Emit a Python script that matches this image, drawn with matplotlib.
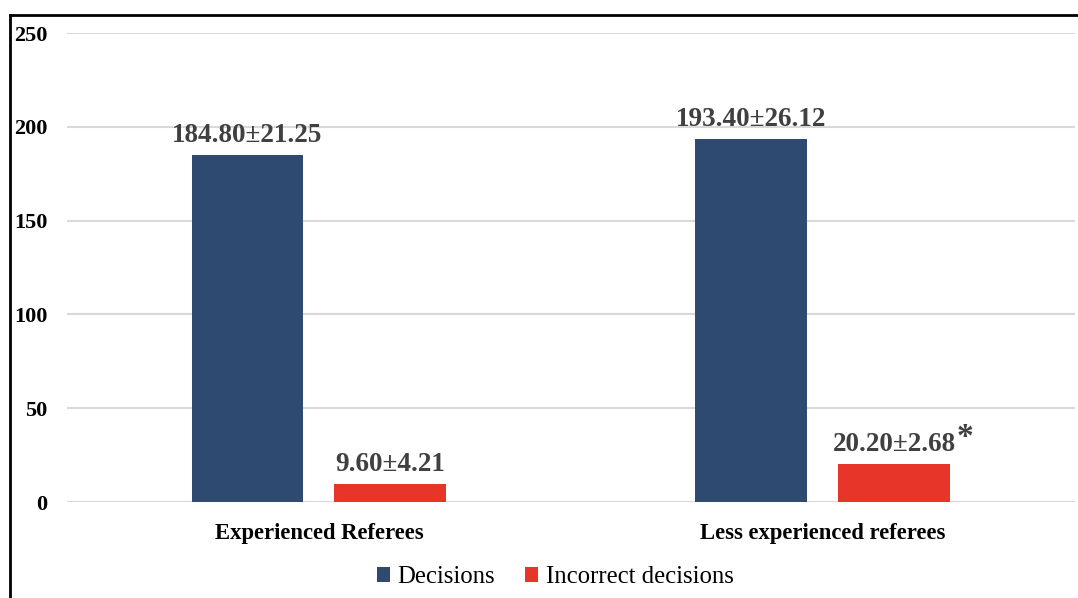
import matplotlib.pyplot as plt
from matplotlib.lines import Line2D
from matplotlib.patches import Patch
import numpy as np

plt.rcParams['font.family'] = ['Liberation Serif', 'DejaVu Serif']

groups = ['Experienced Referees', 'Less experienced referees']
series = ['Decisions', 'Incorrect decisions']
means = [[184.80, 193.40], [9.60, 20.20]]
sds = [[21.25, 26.12], [4.21, 2.68]]
signif = [[False, False], [False, True]]
colors = ['#2E4A70', '#E8352A']

fig = plt.figure(figsize=(10.78, 5.98), dpi=100)
ax = fig.add_axes([0.0622, 0.1605, 0.935, 0.7843])

x = np.arange(len(groups))
w = 0.222
offs = [-0.142, 0.141]
for i in range(len(series)):
    bars = ax.bar(x + offs[i], means[i], width=w, color=colors[i], zorder=3, label=series[i])
    for j, b in enumerate(bars):
        t = ax.annotate(f"{means[i][j]:.2f}\u00b1{sds[i][j]:.2f}",
                        (b.get_x() + b.get_width() / 2, b.get_height()),
                        xytext=(0, 5), textcoords='offset points',
                        ha='center', va='bottom', fontsize=19.5, fontweight='bold',
                        color='#404040')
        if signif[i][j]:
            ax.annotate('*', xy=(1, 1), xycoords=t, xytext=(1, 7), textcoords='offset points',
                        ha='left', va='top', fontsize=24, fontweight='bold', color='#404040')

ax.set_xlim(-0.5, 1.5)
ax.set_ylim(0, 250)
ax.set_yticks(range(0, 251, 50))
ax.set_xticks(x)
ax.set_xticklabels(groups, fontsize=16.3, fontweight='bold')
for lab in ax.get_yticklabels():
    lab.set_fontsize(16)
    lab.set_fontweight('bold')
ax.tick_params(axis='y', length=0, pad=14)
ax.tick_params(axis='x', length=0, pad=15)
ax.grid(axis='y', color='#D9D9D9', linewidth=1.5, zorder=0)
for s in ax.spines.values():
    s.set_visible(False)

handles = [Patch(facecolor=c) for c in colors]
fig.legend(handles, series, loc='center', bbox_to_anchor=(0.515, 0.035), ncol=2,
           frameon=False, fontsize=17.8, handlelength=0.55, handleheight=0.55,
           handletextpad=0.3, columnspacing=1.2)

# outer frame (left and top edges visible)
fig.add_artist(Line2D([10 / 1078, 10 / 1078], [0, 1 - 15 / 598], color='black', lw=2))
fig.add_artist(Line2D([10 / 1078, 1], [1 - 15 / 598, 1 - 15 / 598], color='black', lw=2))

fig.savefig('out.png', dpi=100)
